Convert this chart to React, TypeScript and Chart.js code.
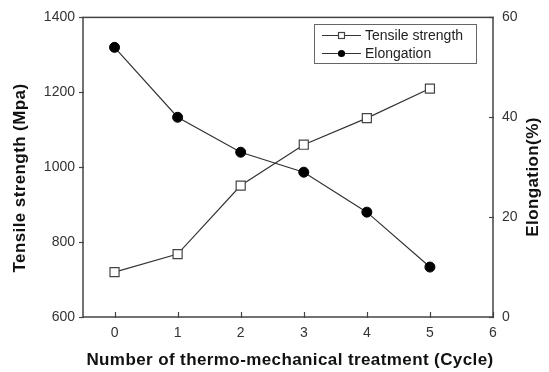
import React, { useEffect, useRef } from "react";
import { Chart, registerables } from "chart.js";

Chart.register(...registerables);

const cycles = [0, 1, 2, 3, 4, 5];
const tensileStrength = [720, 768, 951, 1060, 1131, 1210];
const elongation = [54, 40, 33, 29, 21, 10];
const xTickValues = [0, 1, 2, 3, 4, 5, 6];
const xTitle = "Number of thermo-mechanical treatment (Cycle)";
const yLeftTitle = "Tensile strength (Mpa)";
const yRightTitle = "Elongation(%)";
const seriesLabels = ["Tensile strength", "Elongation"];

const FONT = 'Arial, "Liberation Sans", Helvetica, sans-serif';

const framePlugin = {
  id: "framePlugin",
  afterDraw(chart: any) {
    const ctx = chart.ctx;
    const { left, right, top, bottom } = chart.chartArea;
    ctx.save();
    // frame
    ctx.strokeStyle = "#444";
    ctx.lineWidth = 1.5;
    ctx.strokeRect(left, top, right - left, bottom - top);
    // ticks
    ctx.lineWidth = 1.2;
    const xs = chart.scales.x;
    xTickValues.forEach((v) => {
      const px = Math.round(xs.getPixelForValue(v)) + 0.5;
      ctx.beginPath();
      ctx.moveTo(px, bottom - 5);
      ctx.lineTo(px, bottom + 1);
      ctx.stroke();
    });
    const yl = chart.scales.y;
    yl.ticks.forEach((t: any) => {
      const py = Math.round(yl.getPixelForValue(t.value)) + 0.5;
      ctx.beginPath();
      ctx.moveTo(left - 4, py);
      ctx.lineTo(left + 1, py);
      ctx.stroke();
    });
    const yr = chart.scales.y1;
    yr.ticks.forEach((t: any) => {
      const py = Math.round(yr.getPixelForValue(t.value)) + 0.5;
      ctx.beginPath();
      ctx.moveTo(right - 4, py);
      ctx.lineTo(right + 1, py);
      ctx.stroke();
    });
    // titles
    ctx.fillStyle = "#111";
    ctx.font = `bold 17px ${FONT}`;
    (ctx as any).letterSpacing = "0.4px";
    ctx.textAlign = "center";
    ctx.textBaseline = "middle";
    ctx.fillText(xTitle, (left + right) / 2 + 2, 360);
    ctx.save();
    ctx.translate(20, 178);
    ctx.rotate(-Math.PI / 2);
    ctx.fillText(yLeftTitle, 0, 0);
    ctx.restore();
    ctx.save();
    ctx.translate(533, 177);
    ctx.rotate(-Math.PI / 2);
    ctx.fillText(yRightTitle, 0, 0);
    ctx.restore();
    (ctx as any).letterSpacing = "0px";

    // legend
    ctx.strokeStyle = "#666";
    ctx.lineWidth = 1;
    ctx.strokeRect(314.5, 24.5, 162, 39);
    const rows = [35, 53];
    ctx.font = `14px ${FONT}`;
    ctx.textAlign = "left";
    rows.forEach((y, i) => {
      ctx.strokeStyle = "#333";
      ctx.lineWidth = 1.2;
      ctx.beginPath();
      ctx.moveTo(322, y + 0.5);
      ctx.lineTo(361, y + 0.5);
      ctx.stroke();
      if (i === 0) {
        ctx.fillStyle = "#fff";
        ctx.fillRect(338, y - 3, 7, 7);
        ctx.strokeStyle = "#444";
        ctx.strokeRect(338.5, y - 2.5, 6, 6);
      } else {
        ctx.fillStyle = "#000";
        ctx.beginPath();
        ctx.arc(341.5, y + 0.5, 3.6, 0, Math.PI * 2);
        ctx.fill();
      }
      ctx.fillStyle = "#222";
      ctx.fillText(seriesLabels[i], 365, y + 1);
    });
    ctx.restore();
  },
};

export default function App() {
  const ref = useRef<HTMLCanvasElement | null>(null);
  useEffect(() => {
    if (!ref.current) return;
    const chart = new Chart(ref.current, {
      type: "line",
      data: {
        datasets: [
          {
            label: seriesLabels[0],
            data: cycles.map((c, i) => ({ x: c, y: tensileStrength[i] })),
            yAxisID: "y",
            borderColor: "#333",
            borderWidth: 1.2,
            pointStyle: "rect",
            pointRadius: 6.4,
            pointBackgroundColor: "#fff",
            pointBorderColor: "#444",
            pointBorderWidth: 1.2,
            tension: 0,
          },
          {
            label: seriesLabels[1],
            data: cycles.map((c, i) => ({ x: c, y: elongation[i] })),
            yAxisID: "y1",
            borderColor: "#333",
            borderWidth: 1.2,
            pointStyle: "circle",
            pointRadius: 5,
            pointBackgroundColor: "#000",
            pointBorderColor: "#000",
            pointBorderWidth: 1,
            tension: 0,
          },
        ],
      },
      options: {
        animation: false,
        responsive: false,
        maintainAspectRatio: false,
        layout: { padding: { top: 14, left: 0, right: 0, bottom: 0 } },
        plugins: { legend: { display: false }, tooltip: { enabled: false } },
        scales: {
          x: {
            type: "linear",
            min: -0.5,
            max: 6,
            grid: { display: false, drawTicks: false },
            border: { display: false },
            afterBuildTicks: (s: any) => {
              s.ticks = xTickValues.map((v) => ({ value: v }));
            },
            afterFit: (s: any) => {
              s.height = 55;
            },
            ticks: {
              color: "#333",
              font: { family: FONT, size: 14 },
              padding: 8,
              maxRotation: 0,
              autoSkip: false,
              callback: (v: any) => String(v),
            },
          },
          y: {
            type: "linear",
            position: "left",
            min: 600,
            max: 1400,
            grid: { display: false, drawTicks: false },
            border: { display: false },
            afterFit: (s: any) => {
              s.width = 83;
            },
            ticks: {
              stepSize: 200,
              color: "#333",
              font: { family: FONT, size: 14 },
              padding: 8,
              callback: (v: any) => String(v),
            },
          },
          y1: {
            type: "linear",
            position: "right",
            min: 0,
            max: 60,
            grid: { display: false, drawTicks: false },
            border: { display: false },
            afterFit: (s: any) => {
              s.width = 56;
            },
            ticks: {
              stepSize: 20,
              color: "#333",
              font: { family: FONT, size: 14 },
              padding: 9,
              callback: (v: any) => String(v),
            },
          },
        },
      },
      plugins: [framePlugin],
    } as any);
    return () => chart.destroy();
  }, []);
  return (
    <div style={{ position: "fixed", left: 0, top: 0, width: 549, height: 372, background: "#fff" }}>
      <canvas ref={ref} width={549} height={372} style={{ display: "block" }} />
    </div>
  );
}
